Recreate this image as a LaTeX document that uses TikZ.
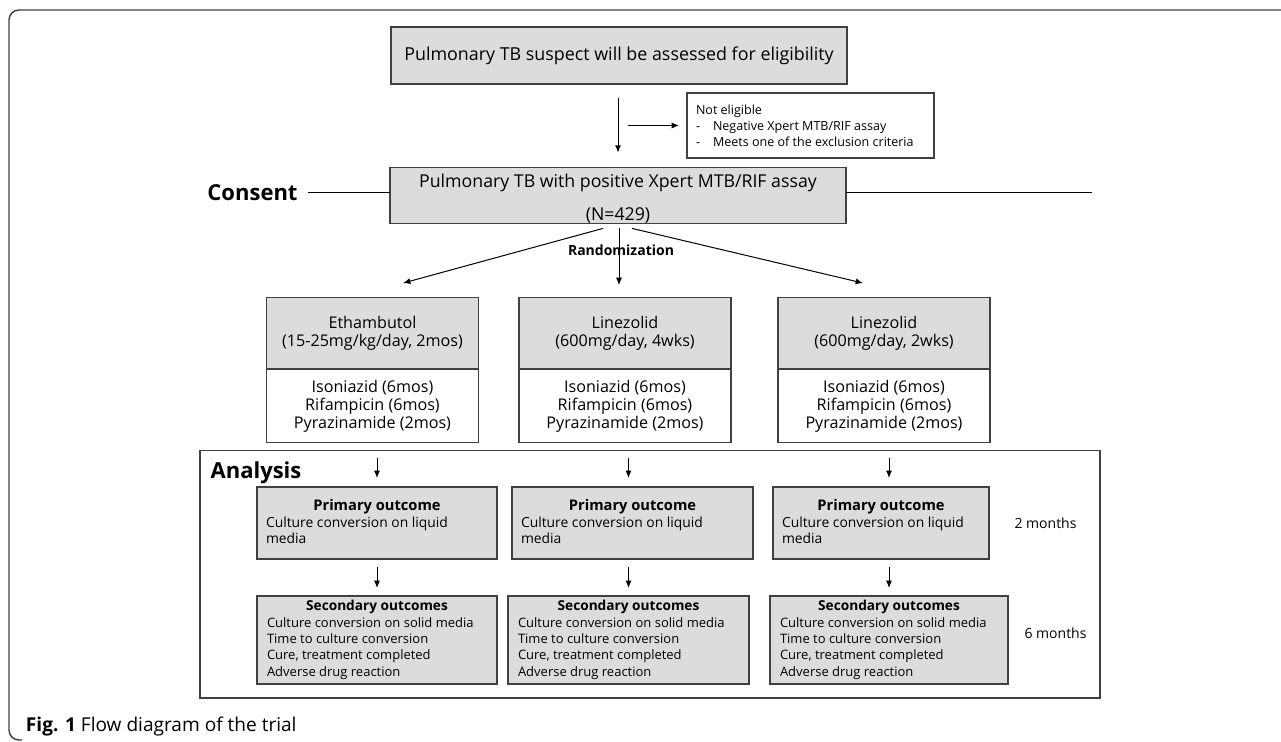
\documentclass[tikz,border=0pt]{standalone}
\usepackage{fontspec}
\setmainfont{Open Sans}
\usetikzlibrary{arrows.meta,positioning,calc}
\definecolor{boxgrey}{RGB}{220,220,220}
\definecolor{edgegrey}{RGB}{64,64,64}

\begin{document}
\begin{tikzpicture}[x=0.75pt, y=-0.75pt,
	greybox/.style={draw=edgegrey, fill=boxgrey, line width=1pt, inner sep=0pt, outer sep=0pt, align=center},
	whitebox/.style={draw=edgegrey, fill=white, line width=1pt, inner sep=0pt, outer sep=0pt, align=center},
	arr/.style={-{Latex[length=5.5pt,width=4.5pt]}, line width=0.75pt},
	txt/.style={inner sep=0pt, outer sep=0pt}]
	\useasboundingbox (0,0) rectangle (1281,742);
	\draw[edgegrey, line width=1.1pt, rounded corners=7.5pt] (1281,10) -- (9,10) -- (9,740) -- (22,740);

	% screening
	\node[greybox, minimum width=342pt, minimum height=42.75pt, font=\fontsize{13.4}{15}\selectfont] (suspect) at (619,55.5) {Pulmonary TB suspect will be assessed for eligibility};
	\node[whitebox, minimum width=185.25pt, minimum height=48.75pt] (noelig) at (810.5,125.5) {};
	\node[txt, anchor=north west, align=left, font=\fontsize{9.4}{12}\selectfont] (noeligtxt) at (696,105) {Not eligible\\\makebox[12.75pt][l]{-}Negative Xpert MTB/RIF assay\\\makebox[12.75pt][l]{-}Meets one of the exclusion criteria};
	\node[greybox, minimum width=342pt, minimum height=41.25pt, font=\fontsize{13.3}{24.75}\selectfont] (positive) at (618,195.5) {\rule{0pt}{15pt}Pulmonary TB with positive Xpert MTB/RIF assay\\(N=429)};
	\coordinate (split) at (628,125.5);
	\draw[arr, shorten <=10.5pt, shorten >=11.25pt] (suspect.south -| positive.north) -- (positive.north);
	\draw[arr, shorten >=6pt] (split) -- (noelig.west);

	% consent line
	\node[txt, anchor=base, font=\bfseries\fontsize{16.5}{20}\selectfont] (consent) at (252.5,200.5) {Consent};
	\coordinate (consentend) at ([xshift=629.6pt]consent.center);
	\draw[line width=0.75pt] ([xshift=8pt]consent.east) -- (consent -| positive.west);
	\draw[line width=0.75pt] (consent -| positive.east) -- (consentend);

	% randomization
	\node[txt, font=\bfseries\fontsize{10.5}{12}\selectfont] (random) at (621,250) {Randomization};
	\foreach \c/\cx/\drug/\dose in {A/372.5/Ethambutol/{(15-25mg/kg/day, 2mos)}, B/625/Linezolid/{(600mg/day, 4wks)}, C/884/Linezolid/{(600mg/day, 2wks)}}{
		\node[greybox, minimum width=159pt, minimum height=53.5pt, font=\fontsize{12.1}{13.5}\selectfont] (trt\c) at (\cx,333.4) {\drug\\\dose};
		\node[whitebox, minimum width=159pt, minimum height=55.3pt, font=\fontsize{12.1}{13.5}\selectfont, below=0pt of trt\c] (reg\c) {Isoniazid (6mos)\\Rifampicin (6mos)\\Pyrazinamide (2mos)};
	}
	\draw[arr] ([xshift=-11.25pt,yshift=-3.75pt]positive.south) -- ([xshift=22.9pt,yshift=11pt]trtA.north);
	\draw[arr] ([xshift=0.75pt,yshift=-3.75pt]positive.south) -- ([xshift=-4.5pt,yshift=9.5pt]trtB.north);
	\draw[arr] ([xshift=10.5pt,yshift=-3.75pt]positive.south) -- ([xshift=-15.75pt,yshift=11pt]trtC.north);

	% analysis
	\node[draw=edgegrey, line width=1pt, minimum width=675pt, minimum height=185.5pt, inner sep=0pt] (analysis) at (650,574.4) {};
	\node[txt, anchor=base, font=\bfseries\fontsize{16.5}{20}\selectfont] (analysislbl) at (256,478) {Analysis};
	\foreach \c/\px/\pw/\sx/\sw in {A/377/180/377/180, B/632.5/180.75/628.5/180.75, C/881/162/889/178.5}{
		\node[greybox, minimum width=\pw pt, minimum height=54pt] (prim\c) at (\px,523) {};
		\node[txt, font=\bfseries\fontsize{11}{13}\selectfont] (ptitle\c) at (\px,507) {Primary outcome};
		\node[txt, anchor=north west, align=left, font=\fontsize{10.4}{12.25}\selectfont] (pbody\c) at ($(prim\c.north west)+(9,30)$) {Culture conversion on liquid\\media};
		\node[greybox, minimum width=\sw pt, minimum height=66pt] (sec\c) at (\sx,640) {};
		\node[txt, font=\bfseries\fontsize{10.25}{12}\selectfont] (stitle\c) at (\sx,607) {Secondary outcomes};
		\node[txt, anchor=north west, align=left, font=\fontsize{9.75}{12.25}\selectfont] (sbody\c) at ($(sec\c.north west)+(10,21.4)$) {Culture conversion on solid media\\Time to culture conversion\\Cure, treatment completed\\Adverse drug reaction};
		\draw[arr, shorten <=11.5pt, shorten >=6.75pt] (reg\c.south -| sec\c.north) -- (prim\c.north -| sec\c.north);
		\draw[arr, shorten <=6pt, shorten >=6pt] (prim\c.south -| sec\c.north) -- (sec\c.north);
	}
	\node[txt, font=\fontsize{10.5}{12}\selectfont] (twomonths) at (1045.5,523) {2 months};
	\node[txt, font=\fontsize{10.5}{12}\selectfont] (sixmonths) at (1055.5,633) {6 months};

	\node[txt, anchor=base west, font=\fontsize{14.3}{16}\selectfont] (caption) at (26,731) {\textbf{Fig. 1} Flow diagram of the trial};
\end{tikzpicture}
\end{document}
